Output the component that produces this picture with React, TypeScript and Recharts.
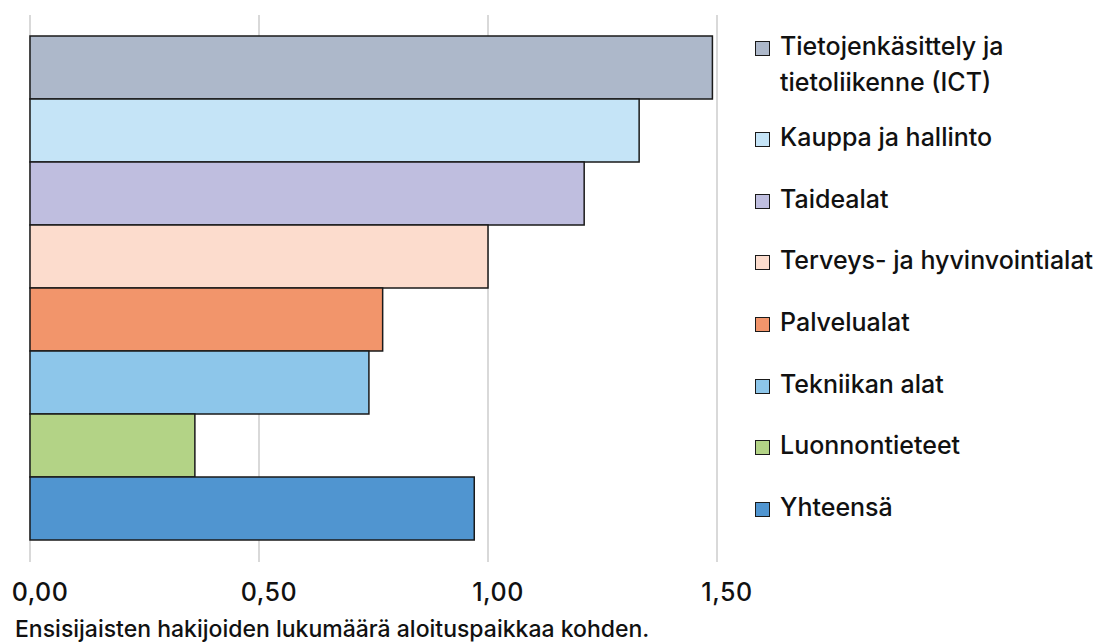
import React from "react";
import { BarChart, Bar, XAxis, YAxis, CartesianGrid, Label } from "recharts";

const seriesNames = [
  "Tietojenkäsittely ja tietoliikenne (ICT)",
  "Kauppa ja hallinto",
  "Taidealat",
  "Terveys- ja hyvinvointialat",
  "Palvelualat",
  "Tekniikan alat",
  "Luonnontieteet",
  "Yhteensä",
];
const seriesValues = [1.49, 1.33, 1.21, 1.0, 0.77, 0.74, 0.36, 0.97];
const seriesColors = [
  "#adb8ca",
  "#c5e4f7",
  "#bfbedf",
  "#fcdccd",
  "#f2956b",
  "#8dc6ea",
  "#b3d386",
  "#5095d0",
];
const xTicks = [0, 0.5, 1.0, 1.5];
const xAxisTitle = "Ensisijaisten hakijoiden lukumäärä aloituspaikkaa kohden.";

const keys = seriesNames.map((_, i) => `s${i}`);
const row: Record<string, number | string> = { name: "kaikki" };
keys.forEach((k, i) => {
  row[k] = seriesValues[i];
});
const data = [row];

const FONT = "Inter, 'Liberation Sans', sans-serif";

const fmt = (v: number) => v.toFixed(2).replace(".", ",");

function LegendBlock() {
  return (
    <div
      style={{
        position: "absolute",
        left: 755,
        top: 28,
        width: 336,
        fontFamily: FONT,
        fontSize: 25,
        fontWeight: 500,
        color: "#111",
      }}
    >
      {seriesNames.map((n, i) => (
        <div
          key={n}
          style={{
            display: "flex",
            alignItems: "flex-start",
            lineHeight: "36px",
            marginBottom: i === 0 ? 19 : 25.7,
          }}
        >
          <div
            style={{
              width: 13,
              height: 13,
              marginTop: 13,
              marginRight: 10,
              flex: "0 0 auto",
              background: seriesColors[i],
              border: "1.5px solid #1a1a1a",
            }}
          />
          <div style={{ width: i === 0 ? 250 : 320, whiteSpace: i === 0 ? "normal" : "nowrap" }}>{n}</div>
        </div>
      ))}
    </div>
  );
}

export default function App() {
  return (
    <div
      style={{
        position: "absolute",
        left: 0,
        top: 0,
        width: 1093,
        height: 644,
        background: "#fff",
        overflow: "hidden",
      }}
    >
      <BarChart
        width={770}
        height={644}
        data={data}
        layout="vertical"
        margin={{ top: 15, right: 53, bottom: 0, left: 30 }}
        barCategoryGap={21}
        barGap={0}
      >
        <CartesianGrid
          horizontal={false}
          vertical={true}
          stroke="#d9d9d9"
          strokeWidth={2}
        />
        <XAxis
          type="number"
          domain={[0, 1.5]}
          ticks={xTicks}
          tickFormatter={fmt}
          axisLine={false}
          tickLine={false}
          tickSize={6}
          tickMargin={15}
          height={82}
          interval={0}
          tick={{
            fontSize: 25,
            fontWeight: 500,
            letterSpacing: 0.5,
            fill: "#111",
            fontFamily: FONT,
            dx: 10,
          }}
        >
          <Label
            content={() => (
              <text
                x={15}
                y={637}
                fontSize={23}
                fontWeight={500}
                fontFamily={FONT}
                fill="#111"
                textAnchor="start"
              >
                {xAxisTitle}
              </text>
            )}
          />
        </XAxis>
        <YAxis
          type="category"
          dataKey="name"
          width={0}
          tick={false}
          tickLine={false}
          axisLine={{ stroke: "#1a1a1a", strokeWidth: 2 }}
        />
        {keys.map((k, i) => (
          <Bar
            key={k}
            dataKey={k}
            name={seriesNames[i]}
            fill={seriesColors[i]}
            stroke="#1a1a1a"
            strokeWidth={1.5}
            isAnimationActive={false}
          />
        ))}
      </BarChart>
      <LegendBlock />
    </div>
  );
}
